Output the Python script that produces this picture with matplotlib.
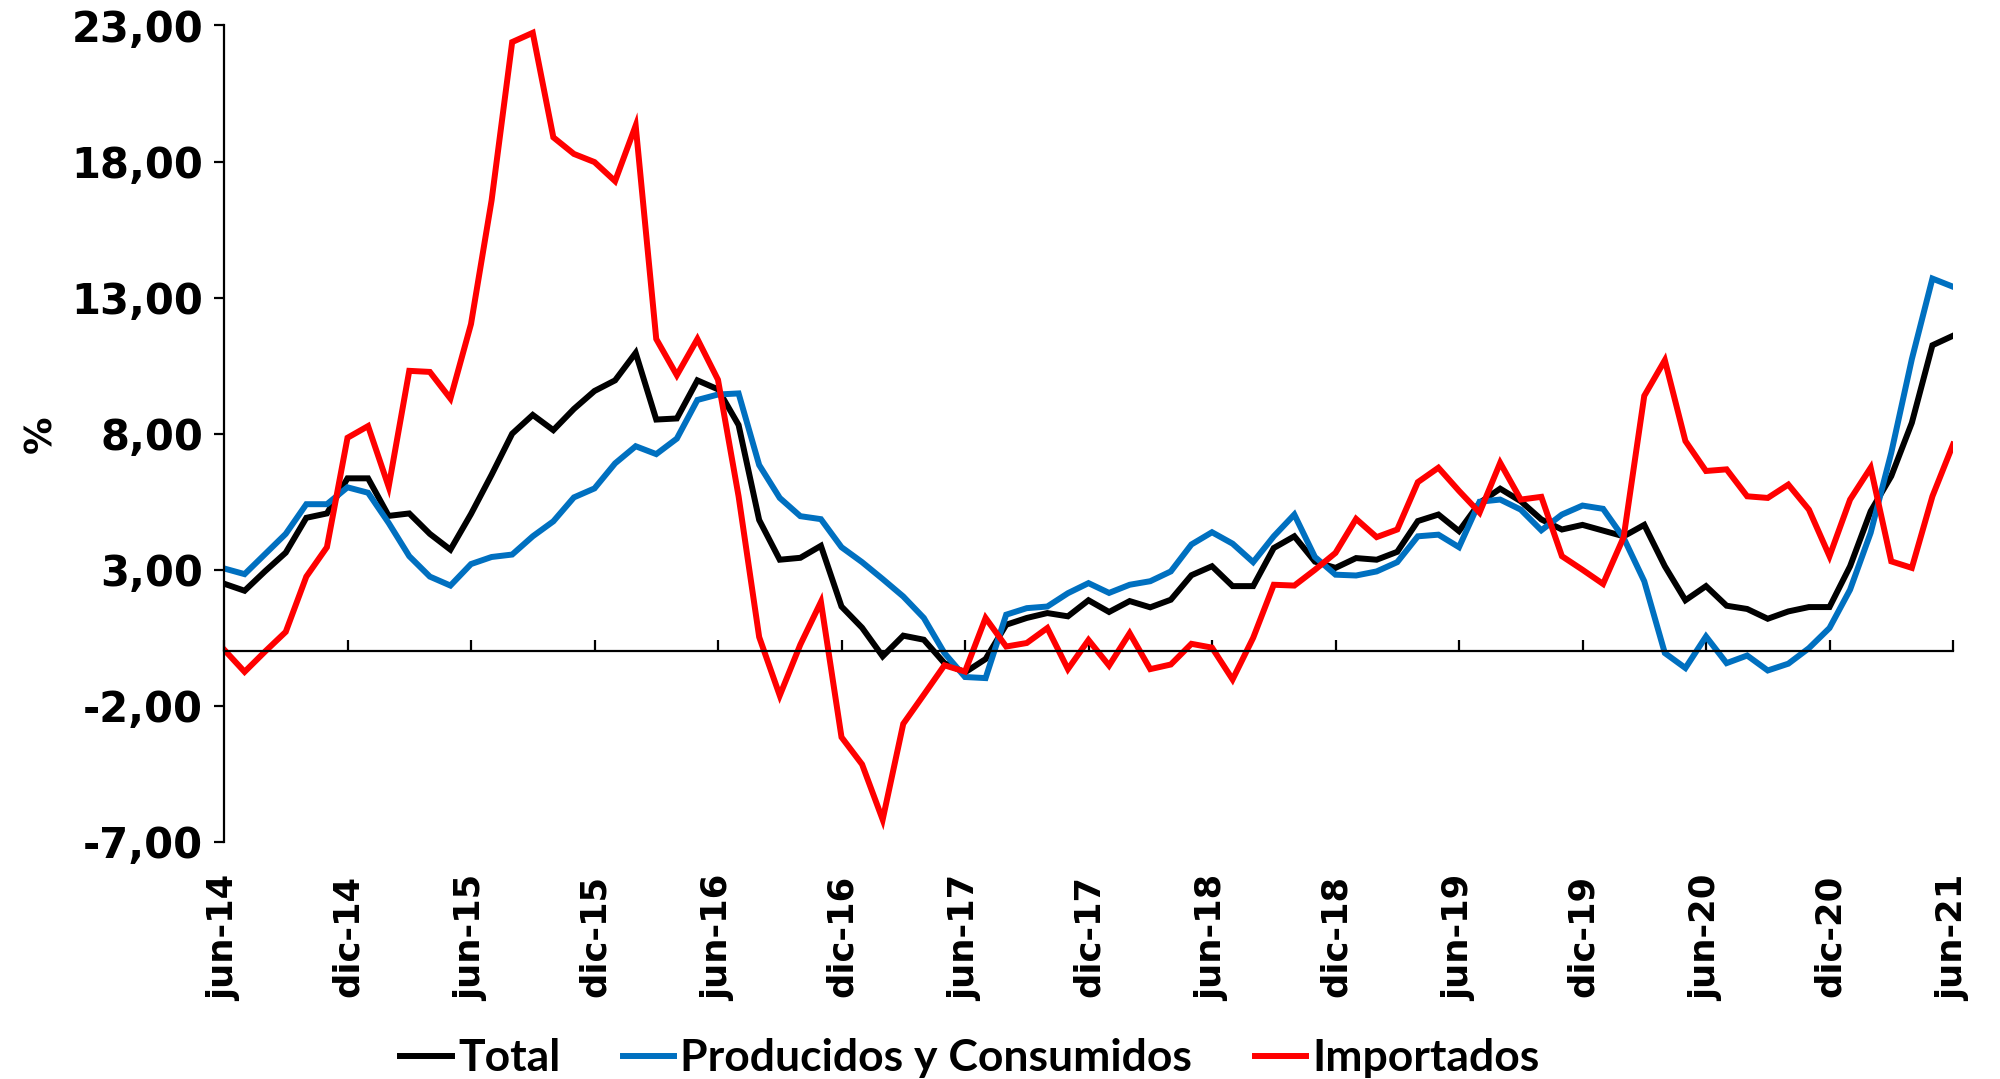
import matplotlib
matplotlib.use("Agg")
import matplotlib.pyplot as plt
from matplotlib.ticker import FuncFormatter, FixedLocator

# Monthly year-on-year variation (%), jun-14 .. jun-21
total = [2.49, 2.23, 2.95, 3.63, 4.91, 5.07, 6.36, 6.36, 4.98, 5.07, 4.32, 3.74,
         5.05, 6.49, 8.00, 8.69, 8.13, 8.91, 9.57, 9.96, 10.97, 8.52, 8.56, 9.96,
         9.63, 8.32, 4.83, 3.37, 3.44, 3.88, 1.65, 0.87, -0.18, 0.58, 0.43, -0.43,
         -0.77, -0.28, 0.98, 1.23, 1.41, 1.29, 1.88, 1.45, 1.85, 1.62, 1.90, 2.80,
         3.13, 2.40, 2.40, 3.80, 4.23, 3.30, 3.07, 3.43, 3.37, 3.66, 4.79, 5.03,
         4.42, 5.46, 5.98, 5.52, 4.85, 4.48, 4.65, 4.44, 4.23, 4.65, 3.13, 1.88,
         2.40, 1.68, 1.56, 1.20, 1.47, 1.63, 1.63, 3.13, 5.15, 6.44, 8.40, 11.25,
         11.60]

producidos = [3.05, 2.84, 3.58, 4.32, 5.41, 5.41, 6.03, 5.83, 4.72, 3.50, 2.75, 2.42,
              3.21, 3.47, 3.56, 4.23, 4.78, 5.66, 5.99, 6.91, 7.54, 7.25, 7.82, 9.24,
              9.44, 9.48, 6.85, 5.64, 4.97, 4.86, 3.83, 3.28, 2.66, 2.02, 1.23, -0.06,
              -0.94, -0.98, 1.35, 1.59, 1.65, 2.14, 2.51, 2.15, 2.45, 2.58, 2.94, 3.93,
              4.38, 3.96, 3.28, 4.23, 5.03, 3.47, 2.82, 2.79, 2.94, 3.28, 4.23, 4.29,
              3.83, 5.50, 5.58, 5.21, 4.45, 5.03, 5.36, 5.24, 4.17, 2.58, -0.06, -0.61,
              0.55, -0.43, -0.15, -0.70, -0.45, 0.12, 0.86, 2.27, 4.36, 7.30, 10.74, 13.70,
              13.40]

importados = [0.07, -0.75, 0.00, 0.72, 2.75, 3.83, 7.85, 8.28, 6.05, 10.31, 10.27, 9.29,
              12.03, 16.57, 22.39, 22.73, 18.89, 18.28, 17.98, 17.28, 19.32, 11.48, 10.15, 11.48,
              9.98, 5.70, 0.53, -1.62, 0.25, 1.82, -3.15, -4.15, -6.18, -2.66, -1.59, -0.51,
              -0.74, 1.23, 0.18, 0.31, 0.86, -0.65, 0.42, -0.52, 0.67, -0.65, -0.48, 0.28,
              0.14, -1.03, 0.50, 2.45, 2.42, 3.00, 3.62, 4.87, 4.20, 4.48, 6.22, 6.75,
              5.90, 5.10, 6.93, 5.58, 5.68, 3.50, 3.00, 2.48, 4.20, 9.39, 10.70, 7.73,
              6.63, 6.69, 5.70, 5.64, 6.13, 5.21, 3.50, 5.58, 6.75, 3.31, 3.07, 5.70,
              7.60]

tick_labels = ["jun-14", "dic-14", "jun-15", "dic-15", "jun-16", "dic-16", "jun-17",
               "dic-17", "jun-18", "dic-18", "jun-19", "dic-19", "jun-20", "dic-20",
               "jun-21"]
series_names = ["Total", "Producidos y Consumidos", "Importados"]
y_ticks = [-7, -2, 3, 8, 13, 18, 23]

colors = ["#000000", "#0070C0", "#FF0000"]

fig = plt.figure(figsize=(20, 10.79), dpi=100)
ax = fig.add_axes([0.112, 0.2197, 0.8645, 0.7567])

months = list(range(len(total)))
for values, name, color in zip([total, producidos, importados], series_names, colors):
    ax.plot(months, values, color=color, lw=4.3, label=name, solid_joinstyle="miter")

ax.set_xlim(0, len(total) - 1)
ax.set_ylim(-7, 23)

for side in ("top", "right"):
    ax.spines[side].set_visible(False)
ax.spines["bottom"].set_position(("data", 0))
ax.spines["bottom"].set_linewidth(1.6)
ax.spines["left"].set_linewidth(1.6)

tick_pos = list(range(0, len(total), 6))
ax.xaxis.set_major_locator(FixedLocator(tick_pos))
ax.set_xticklabels([])
ax.tick_params(axis="x", direction="in", length=8, width=1.6)

ax.yaxis.set_major_locator(FixedLocator(y_ticks))
ax.yaxis.set_major_formatter(FuncFormatter(lambda v, p: f"{v:.2f}".replace(".", ",")))
ax.tick_params(axis="y", direction="out", length=7, width=1.6, pad=8,
               labelsize=30)
for lab in ax.get_yticklabels():
    lab.set_fontweight("bold")

# Category labels sit below the plotting area
for pos, text in zip(tick_pos, tick_labels):
    ax.text(pos, -0.04, text, transform=ax.get_xaxis_transform(), rotation=90,
            ha="center", va="top", fontsize=25.5, fontweight="bold")

ax.set_ylabel("%", fontsize=27, fontweight="bold", labelpad=9)

leg = fig.legend(loc="center", bbox_to_anchor=(0.485, 0.019), ncol=3, frameon=False,
                 handlelength=1.15, handletextpad=0.15, columnspacing=1.4,
                 prop={"family": "Lato", "weight": "bold", "size": 32})

fig.savefig("out.png", dpi=100)
